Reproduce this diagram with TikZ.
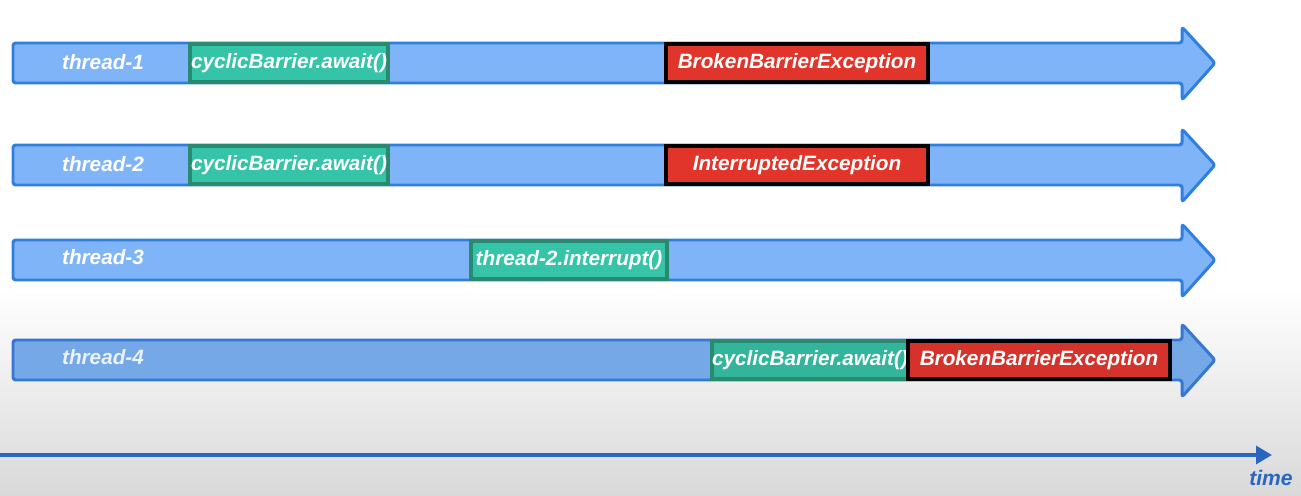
\documentclass[tikz,border=0pt]{standalone}
\usepackage{fontspec}
\setmainfont{Liberation Sans}
\usetikzlibrary{arrows.meta}
\definecolor{barfill}{HTML}{7FB5F8}
\definecolor{barline}{HTML}{2F7EE0}
\definecolor{barfillB}{HTML}{74A8E6}
\definecolor{barlineB}{HTML}{3577D2}
\definecolor{gfill}{HTML}{35C4A8}
\definecolor{gline}{HTML}{2A8A70}
\definecolor{gfillB}{HTML}{33B59C}
\definecolor{rfill}{HTML}{E1342A}
\definecolor{rfillB}{HTML}{D4322A}
\definecolor{axis}{HTML}{2866C0}
\begin{document}
\begin{tikzpicture}[x=0.02cm,y=-0.02cm,
  bar/.style={fill=barfill,draw=barline,line width=1.7pt,rounded corners=1.5pt,line join=round},
  barB/.style={fill=barfillB,draw=barlineB,line width=1.7pt,rounded corners=1.5pt,line join=round},
  lbl/.style={text=white,font=\bfseries\itshape\fontsize{11.8}{13}\selectfont,inner sep=0pt},
  gbox/.style={fill=gfill,draw=gline,line width=1.8pt,minimum height=0.76cm,inner sep=0pt,text=white,font=\bfseries\itshape\fontsize{11.8}{13}\selectfont},
  rbox/.style={fill=rfill,draw=black,line width=2pt,minimum height=0.76cm,inner sep=0pt,text=white,font=\bfseries\itshape\fontsize{11.8}{13}\selectfont},
]
\useasboundingbox (0,0) rectangle (1301,496);
\fill[white] (0,0) rectangle (1301,292);
\shade[top color=white,bottom color=black!15] (0,290) rectangle (1301,496);

% thread arrows
\foreach \c/\s in {63/bar,165/bar,260/bar,360/barB}{
  \path[\s] (13,\c-20) -- (1182,\c-20) -- (1182,\c-36) -- (1215,\c) -- (1182,\c+37) -- (1182,\c+20) -- (13,\c+20) -- cycle;
}

% row 1
\node[lbl] (t1) at (103,62) {thread-1};
\node[gbox,minimum width=3.96cm] (a1) at (289,63) {cyclicBarrier.await()};
\node[rbox,minimum width=5.24cm] (e1) at (797,63) {BrokenBarrierException};
% row 2
\node[lbl] (t2) at (103,164) {thread-2};
\node[gbox,minimum width=3.96cm] (a2) at (289,165) {cyclicBarrier.await()};
\node[rbox,minimum width=5.24cm] (e2) at (797,165) {InterruptedException};
% row 3
\node[lbl] (t3) at (103,257) {thread-3};
\node[gbox,minimum width=3.92cm] (i3) at (569,260) {thread-2.interrupt()};
% row 4
\node[lbl,text=white!85!barfillB] (t4) at (103,357) {thread-4};
\node[gbox,fill=gfillB,minimum width=3.92cm] (a4) at (810,360) {cyclicBarrier.await()};
\node[rbox,fill=rfillB,minimum width=5.24cm] (e4) at (1039,360) {BrokenBarrierException};

% time axis
\coordinate (ax0) at (0,455);
\coordinate (ax1) at (1272,455);
\draw[axis,line width=2.2pt,-{Triangle[length=9pt,width=10pt]}] (ax0) -- (ax1);
\node[text=axis,font=\bfseries\itshape\fontsize{12}{14}\selectfont,inner sep=0pt] (time) at (1271,478) {time};
\end{tikzpicture}
\end{document}
